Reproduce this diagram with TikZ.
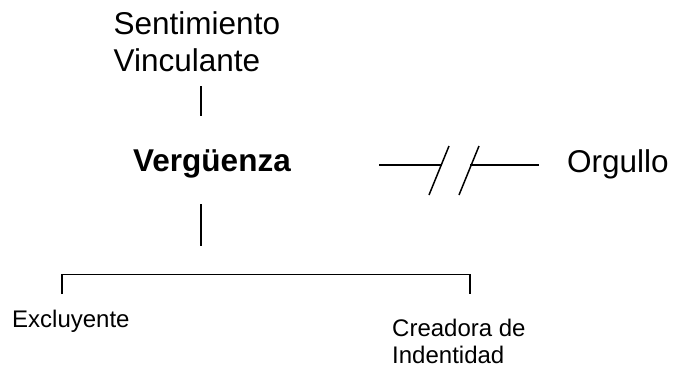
\documentclass[tikz,border=0pt]{standalone}
\usepackage{fontspec}
\setmainfont{Liberation Sans}
\usepackage{tikz}
\usetikzlibrary{positioning}

\tikzset{
    big/.style={inner sep=0pt, anchor=base west, align=left, font=\fontsize{31.5bp}{37bp}\selectfont},
    small/.style={inner sep=0pt, anchor=base west, align=left, font=\fontsize{24bp}{27bp}\selectfont},
}

\begin{document}
\begin{tikzpicture}[x=1bp, y=-1bp]
        \useasboundingbox (0,0) rectangle (674,367);
        % base of a two-line text is its last line
        \node[big] at (113.5,71) (sentimiento) {Sentimiento\\Vinculante};
        \node[big] at (133,171) (verguenza) {\textbf{Vergüenza}};
        \node[big] at (567,172) (orgullo) {Orgullo};
        \node[small] at (12,327) (excluyente) {Excluyente};
        \node[small] at (392,363) (creadora) {Creadora de\\Indentidad};
        % ends of the connectors
        \coordinate (a1) at (201,86);
        \coordinate (a2) at (201,116);
        \coordinate (b1) at (201,204);
        \coordinate (b2) at (201,246);
        \coordinate (c1) at (62,294);
        \coordinate (c2) at (62,274.5);
        \coordinate (c3) at (470,274.5);
        \coordinate (c4) at (470,294);
        \coordinate (d1) at (379,165);
        \coordinate (d2) at (441,165);
        \coordinate (d3) at (470,165);
        \coordinate (d4) at (539,165);
        \coordinate (s1) at (429,195);
        \coordinate (s2) at (449,146);
        \coordinate (s3) at (459,195);
        \coordinate (s4) at (479,146);
        \path[-, line width=1.5bp]
        (a1) edge (a2)
        (b1) edge (b2)
        (d1) edge (d2)
        (d3) edge (d4)
        (s1) edge (s2)
        (s3) edge (s4)
        ;
        \draw[line width=1.5bp] (c1) -- (c2) -- (c3) -- (c4);
    \end{tikzpicture}
\end{document}
